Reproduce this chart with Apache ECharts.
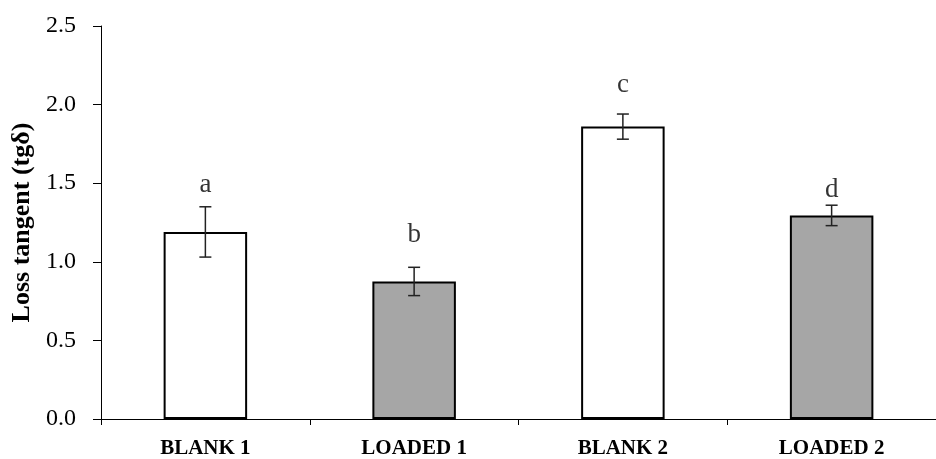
<!DOCTYPE html>
<html><head><meta charset="utf-8">
<script src="https://cdn.jsdelivr.net/npm/echarts@6/dist/echarts.min.js"></script>
<style>html,body{margin:0;padding:0;background:#fff}#c{width:936px;height:459px}</style>
</head><body><div id="c"></div>
<script>
const categories = ['BLANK 1', 'LOADED 1', 'BLANK 2', 'LOADED 2'];
const values = [1.19, 0.875, 1.86, 1.295];
const errors = [0.16, 0.09, 0.08, 0.065];
const letters = ['a', 'b', 'c', 'd'];
const letterY = [1.49, 1.17, 2.125, 1.46];
const barColors = ['#ffffff', '#a6a6a6', '#ffffff', '#a6a6a6'];
const yTicks = [0, 0.5, 1.0, 1.5, 2.0, 2.5];

const FONT = '"Liberation Serif", "DejaVu Serif", serif';
const chart = echarts.init(document.getElementById('c'), null, {renderer: 'canvas'});
chart.setOption({
  animation: false,
  grid: {left: 101, top: 26, width: 844, height: 393, containLabel: false},
  xAxis: {
    type: 'category', data: categories,
    axisLine: {lineStyle: {color: '#000', width: 1}},
    axisTick: {show: true, length: 6, lineStyle: {color: '#000'}},
    axisLabel: {fontFamily: FONT, fontWeight: 'bold', fontSize: 21, color: '#000', margin: 19}
  },
  yAxis: {
    type: 'value', min: 0, max: 2.5, interval: 0.5,
    name: 'Loss tangent (tgδ)', nameLocation: 'middle', nameRotate: 90, nameGap: 65,
    nameTextStyle: {fontFamily: FONT, fontWeight: 'bold', fontSize: 26, color: '#000'},
    axisLine: {show: true, lineStyle: {color: '#000', width: 1}},
    axisTick: {show: true, length: 8, lineStyle: {color: '#000'}},
    splitLine: {show: false},
    axisLabel: {fontFamily: FONT, fontSize: 24, color: '#000', margin: 25,
      formatter: v => v.toFixed(1)}
  },
  series: [
    {
      type: 'bar', barWidth: '40%',
      data: values.map((v, i) => ({value: v, itemStyle: {color: barColors[i], borderColor: '#000', borderWidth: 2}})),
      z: 2
    },
    {
      type: 'custom', z: 3,
      data: values.map((v, i) => [i, v - errors[i], v + errors[i]]),
      renderItem: function (params, api) {
        const lo = api.coord([api.value(0), api.value(1)]);
        const hi = api.coord([api.value(0), api.value(2)]);
        const w = 6;
        const st = {stroke: '#222', lineWidth: 1.5};
        return {type: 'group', children: [
          {type: 'line', shape: {x1: lo[0], y1: lo[1], x2: hi[0], y2: hi[1]}, style: st},
          {type: 'line', shape: {x1: lo[0] - w, y1: lo[1], x2: lo[0] + w, y2: lo[1]}, style: st},
          {type: 'line', shape: {x1: hi[0] - w, y1: hi[1], x2: hi[0] + w, y2: hi[1]}, style: st}
        ]};
      }
    },
    {
      type: 'scatter', symbolSize: 0, z: 4,
      data: letterY.map((y, i) => [i, y]),
      label: {show: true, position: 'inside', formatter: p => letters[p.dataIndex],
        fontFamily: FONT, fontSize: 27, color: '#000'}
    }
  ]
});
</script></body></html>
